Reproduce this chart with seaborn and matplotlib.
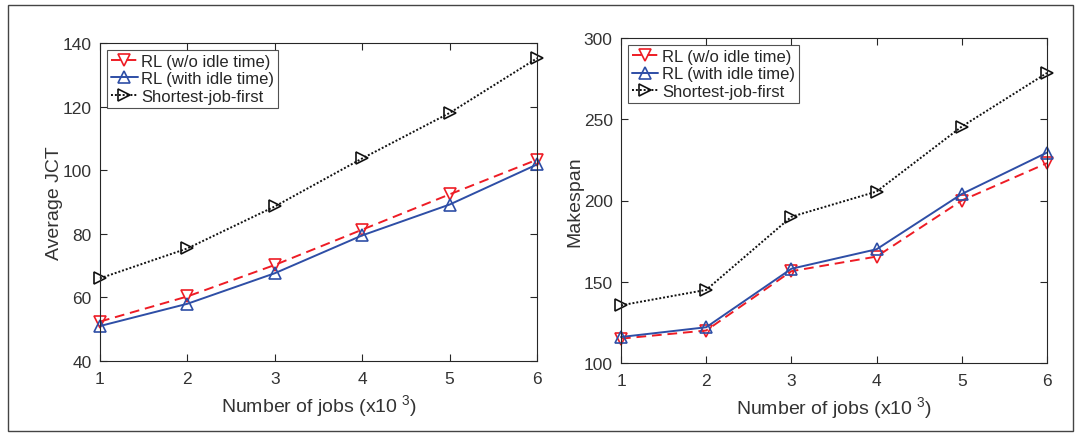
import numpy as np
import pandas as pd
import seaborn as sns
import matplotlib
matplotlib.use("Agg")
import matplotlib.pyplot as plt
from matplotlib.patches import Rectangle

jobs = [1, 2, 3, 4, 5, 6]
series_names = ["RL (w/o idle time)", "RL (with idle time)", "Shortest-job-first"]

jct_rl_no_idle = [52.4, 60.3, 70.2, 81.3, 92.4, 103.3]
jct_rl_idle = [51.0, 58.0, 67.6, 79.5, 89.2, 101.8]
jct_sjf = [66.0, 75.4, 88.6, 103.7, 118.0, 135.2]

mk_rl_no_idle = [115.0, 120.0, 156.5, 165.5, 200.0, 223.0]
mk_rl_idle = [116.0, 122.0, 158.0, 170.0, 204.0, 229.5]
mk_sjf = [135.5, 145.0, 190.0, 205.5, 245.5, 278.5]

left_yticks = [40, 60, 80, 100, 120, 140]
right_yticks = [100, 150, 200, 250, 300]

def long_df(vals):
    rows = []
    for name, v in zip(series_names, vals):
        for x, y in zip(jobs, v):
            rows.append({"jobs": x, "value": y, "series": name})
    return pd.DataFrame(rows)

df_jct = long_df([jct_rl_no_idle, jct_rl_idle, jct_sjf])
df_mk = long_df([mk_rl_no_idle, mk_rl_idle, mk_sjf])

sns.set_style("ticks")
plt.rcParams["font.family"] = ["Liberation Sans", "DejaVu Sans"]
plt.rcParams["mathtext.fontset"] = "custom"
plt.rcParams["mathtext.rm"] = "Liberation Sans"

colors = {"RL (w/o idle time)": "#ee1c25", "RL (with idle time)": "#2e4ea6", "Shortest-job-first": "#111111"}
markers = {"RL (w/o idle time)": "v", "RL (with idle time)": "^", "Shortest-job-first": ">"}
dashes = {"RL (w/o idle time)": (5, 3), "RL (with idle time)": "", "Shortest-job-first": (1, 1)}

fig = plt.figure(figsize=(10.86, 4.35), dpi=100)
fig.patches.append(Rectangle((8/1086, 1-432/435), (1073-8)/1086, (432-6)/435,
                             transform=fig.transFigure, fill=False,
                             edgecolor="#444444", linewidth=1.0))

ax1 = fig.add_axes([100/1086, 1-362/435, 437/1086, 318/435])
ax2 = fig.add_axes([621/1086, 1-364/435, 426/1086, (364-39)/435])

axis_col = "#262626"
for ax, df, yt, ylabel in [(ax1, df_jct, left_yticks, "Average JCT"),
                           (ax2, df_mk, right_yticks, "Makespan")]:
    sns.lineplot(data=df, x="jobs", y="value", hue="series", style="series",
                 palette=colors, markers=markers, dashes=dashes, ax=ax,
                 linewidth=1.4, markersize=9, markerfacecolor="none",
                 markeredgewidth=1.2)
    for line in ax.lines:
        line.set_markerfacecolor("none")
        line.set_markeredgecolor(line.get_color())
        line.set_clip_on(False)
    ax.set_xlim(1, 6)
    ax.set_ylim(yt[0], yt[-1])
    ax.set_xticks(jobs)
    ax.set_yticks(yt)
    ax.tick_params(direction="in", top=True, right=True, length=5, width=0.8,
                   labelsize=12.5, colors=axis_col, labelcolor="#333333", pad=7)
    ax.tick_params(axis="y", pad=6)
    for sp in ax.spines.values():
        sp.set_visible(True)
        sp.set_color(axis_col)
        sp.set_linewidth(0.8)
    ax.set_xlabel("Number of jobs (x10$^{\\ 3}$)", fontsize=14, color="#333333", labelpad=5)
    ax.set_ylabel(ylabel, fontsize=14, color="#333333", labelpad=0)
    leg = ax.legend(loc="upper left", fontsize=12, frameon=True, fancybox=False,
                    borderpad=0.25, labelspacing=0.15, handlelength=1.6,
                    handletextpad=0.2, borderaxespad=0.4)
    leg.get_frame().set_edgecolor(axis_col)
    leg.get_frame().set_linewidth(0.8)
    for h in leg.legend_handles:
        h.set_markerfacecolor("none")
        h.set_markeredgecolor(h.get_color())

fig.savefig("out.png", dpi=100)
